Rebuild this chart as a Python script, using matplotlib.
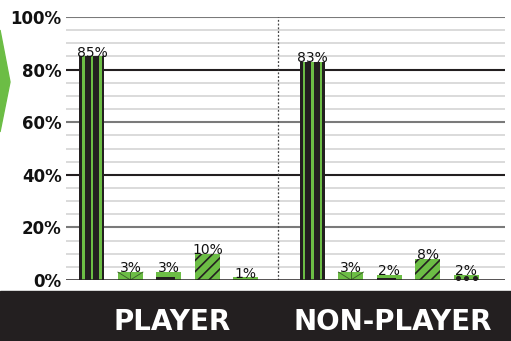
import numpy as np
import matplotlib
matplotlib.use("Agg")
import matplotlib.pyplot as plt
from matplotlib.patches import Polygon, Rectangle

# survey shares (%) for the two groups, five answer types each
groups = ["PLAYER", "NON-PLAYER"]
player = [85, 3, 3, 10, 1]
non_player = [83, 3, 2, 8, 2]
value_labels = [["85%", "3%", "3%", "10%", "1%"], ["83%", "3%", "2%", "8%", "2%"]]
yticks = [0, 20, 40, 60, 80, 100]
ytick_labels = ["0%", "20%", "40%", "60%", "80%", "100%"]

GREEN = "#6cbd45"
DARK = "#231f20"

plt.rcParams["hatch.linewidth"] = 1.2

fig = plt.figure(figsize=(5.11, 3.41), dpi=100)
ax = fig.add_axes([0.129, 0.179, 0.859, 0.771])

x1 = np.arange(5)
x2 = np.arange(5) + 5.73
w = 0.65

# horizontal rules: light every 5%, heavier every 20%
for v in range(5, 100, 5):
    if v % 20:
        ax.axhline(v, color="#d4d4d4", lw=1.2, zorder=0)
for v in yticks:
    col = DARK if v in (0, 40, 80) else "#7a7a7a"
    ax.axhline(v, color=col, lw=1.5 if v else 1.8, zorder=0 if v else 3)

for xs, vals, labs in [(x1, player, value_labels[0]), (x2, non_player, value_labels[1])]:
    # 1) dark bar with three green stripes
    ax.bar(xs[0], vals[0], w, color=DARK, zorder=2)
    for off in (-0.22, 0.0, 0.22):
        ax.bar(xs[0] + off, vals[0], 0.062, color=GREEN, zorder=2.1)
    # 2) green bar with thin rays
    ax.bar(xs[1], vals[1], w, color=GREEN, zorder=2)
    ax.plot([xs[1] - w / 2, xs[1], xs[1] + w / 2], [vals[1], 0, vals[1]],
            color="#3a5a2a", lw=0.6, zorder=2.1)
    ax.plot([xs[1], xs[1]], [0, vals[1]], color="#3a5a2a", lw=0.6, zorder=2.1)
    # 3) green bar with dark base block
    ax.bar(xs[2], vals[2], w, color=GREEN, zorder=2)
    ax.bar(xs[2] - 0.08, vals[2] * 0.4, w * 0.75, color=DARK, zorder=2.1)
    # 4) green bar with diagonal hatch
    ax.bar(xs[3], vals[3], w, color=GREEN, edgecolor=DARK, hatch="///", lw=0, zorder=2)
    # 5) green bar with dots
    ax.bar(xs[4], vals[4], w, color=GREEN, zorder=2)
    if vals[4] >= 2:
        ax.scatter(xs[4] + np.array([-0.22, 0.0, 0.22]), [vals[4] * 0.45] * 3,
                   s=7, color=DARK, zorder=2.2)
    for x, v, t in zip(xs, vals, labs):
        ax.text(x, v - 1.3, t, ha="center", va="bottom", fontsize=10,
                family="DejaVu Sans", color="#111111", zorder=4)

# group divider
ax.axvline(4.83, color="#444444", lw=0.9, ls=(0, (1.5, 1.5)), zorder=1)

ax.set_xlim(-0.675, 10.73)
ax.set_ylim(0, 100)
ax.set_yticks(yticks)
ax.set_yticklabels(ytick_labels, fontsize=12, fontweight="bold", color="#111111")
ax.tick_params(axis="y", length=0, pad=3)
ax.set_xticks([])
for s in ax.spines.values():
    s.set_visible(False)
ax.patch.set_alpha(0)

# footer band with group names
fig.patches.append(Rectangle((0, 0), 1, 0.147, transform=fig.transFigure,
                             color=DARK, zorder=0))
fig.text(172 / 511, 0.057, groups[0], ha="center", va="center", color="white",
         fontsize=20, fontweight="bold")
fig.text(393 / 511, 0.057, groups[1], ha="center", va="center", color="white",
         fontsize=20, fontweight="bold")

# green chevron at left edge
fig.patches.append(Polygon([(0, 1 - 30 / 341), (10 / 511, 1 - 82 / 341), (0, 1 - 132 / 341)],
                           closed=True, transform=fig.transFigure, color=GREEN))

fig.savefig("out.png", dpi=100)
